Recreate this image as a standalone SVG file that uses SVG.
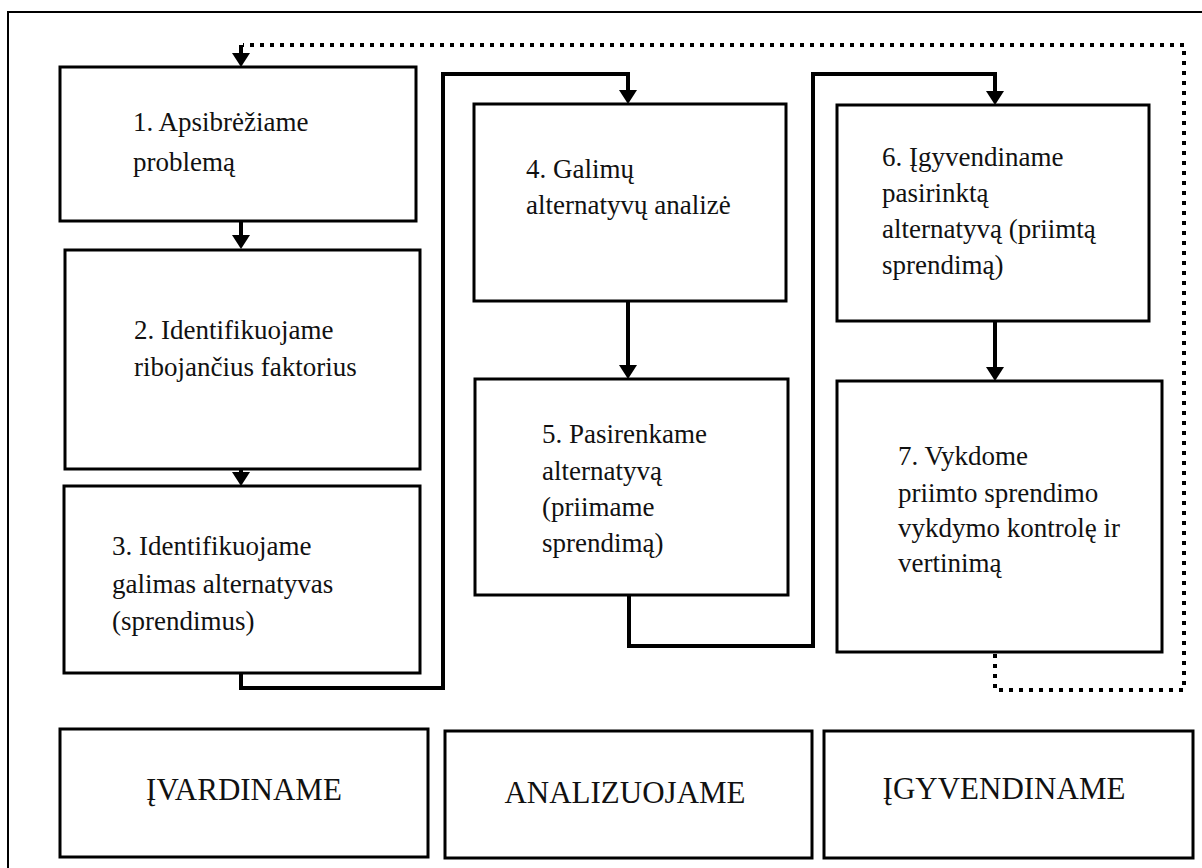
<svg xmlns="http://www.w3.org/2000/svg" width="1202" height="868" viewBox="0 0 1202 868">
<style>
.box{fill:#fff;stroke:#000;stroke-width:3}
.t{font-family:"Liberation Serif","Times New Roman",serif;font-size:27px;fill:#111}
.b{font-family:"Liberation Serif","Times New Roman",serif;font-size:31px;fill:#111;text-anchor:middle}
.c{fill:none;stroke:#000;stroke-width:4}
.d{fill:none;stroke:#000;stroke-width:4;stroke-dasharray:4 6}
</style>
<defs>
<marker id="ah" markerUnits="userSpaceOnUse" viewBox="0 0 14 18" markerWidth="14" markerHeight="18" refX="4" refY="9" orient="auto">
<path d="M0,0 L14,9 L0,18 z" fill="#000"/>
</marker>
</defs>
<rect width="1202" height="868" fill="#fff"/>
<path d="M8,868 V12 H1202" fill="none" stroke="#000" stroke-width="2"/>
<g id="connectors">
<path class="d" d="M995,654 V690 H1184 V45 H243"/>
<path class="c" d="M241,45 V57" marker-end="url(#ah)"/>
<path class="c" d="M241,222 V239" marker-end="url(#ah)"/>
<path class="c" d="M241,470 V476" marker-end="url(#ah)"/>
<path class="c" d="M241,674 V688 H443 V74 H628 V94" marker-end="url(#ah)"/>
<path class="c" d="M628,302 V369" marker-end="url(#ah)"/>
<path class="c" d="M629,596 V646 H813 V74 H995 V95" marker-end="url(#ah)"/>
<path class="c" d="M995,322 V371" marker-end="url(#ah)"/>
</g>
<g id="n1"><rect class="box" x="60" y="67" width="356" height="154"/>
<text class="t" x="133" y="131">1. Apsibrėžiame</text><text class="t" x="133" y="171">problemą</text></g>
<g id="n2"><rect class="box" x="65" y="250" width="355" height="219"/>
<text class="t" x="134" y="339">2. Identifikuojame</text><text class="t" x="134" y="376">ribojančius faktorius</text></g>
<g id="n3"><rect class="box" x="64" y="486" width="356" height="187"/>
<text class="t" x="112" y="555">3. Identifikuojame</text><text class="t" x="112" y="593">galimas alternatyvas</text><text class="t" x="112" y="630">(sprendimus)</text></g>
<g id="n4"><rect class="box" x="474" y="104" width="312" height="197"/>
<text class="t" x="526" y="178">4. Galimų</text><text class="t" x="526" y="214">alternatyvų analizė</text></g>
<g id="n5"><rect class="box" x="475" y="379" width="313" height="216"/>
<text class="t" x="542" y="443">5. Pasirenkame</text><text class="t" x="542" y="480">alternatyvą</text><text class="t" x="542" y="516">(priimame</text><text class="t" x="542" y="552">sprendimą)</text></g>
<g id="n6"><rect class="box" x="837" y="105" width="312" height="216"/>
<text class="t" x="882" y="166">6. Įgyvendiname</text><text class="t" x="882" y="202">pasirinktą</text><text class="t" x="882" y="238">alternatyvą (priimtą</text><text class="t" x="882" y="274">sprendimą)</text></g>
<g id="n7"><rect class="box" x="837" y="381" width="325" height="271"/>
<text class="t" x="898" y="465">7. Vykdome</text><text class="t" x="898" y="502">priimto sprendimo</text><text class="t" x="898" y="537">vykdymo kontrolę ir</text><text class="t" x="898" y="572">vertinimą</text></g>
<g id="p1"><rect class="box" x="60" y="729" width="368" height="128"/>
<text class="b" x="244" y="800">ĮVARDINAME</text></g>
<g id="p2"><rect class="box" x="445" y="731" width="367" height="127"/>
<text class="b" x="625" y="803">ANALIZUOJAME</text></g>
<g id="p3"><rect class="box" x="824" y="731" width="369" height="127"/>
<text class="b" x="1004" y="799">ĮGYVENDINAME</text></g>
</svg>
